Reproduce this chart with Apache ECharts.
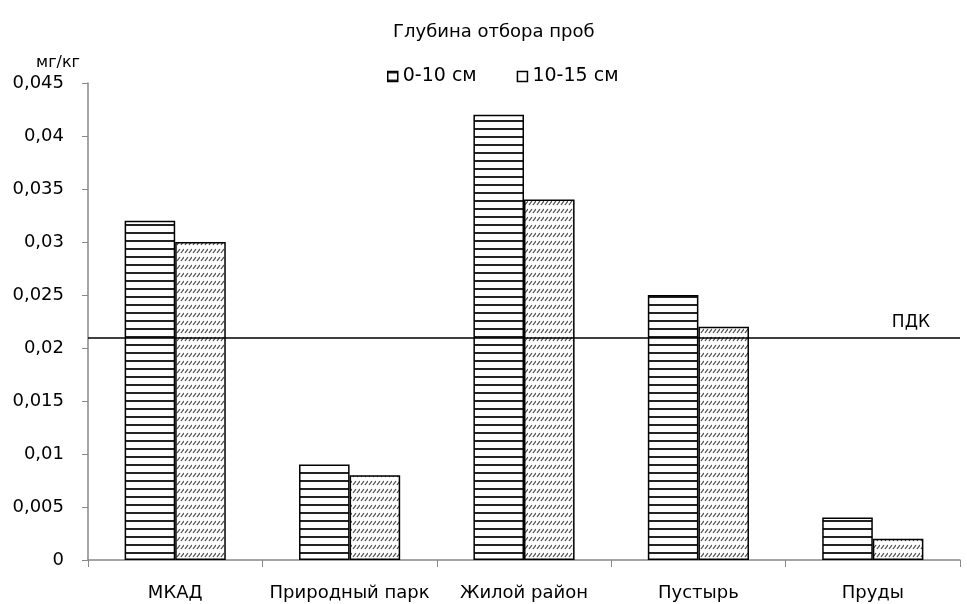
<!DOCTYPE html>
<html><head><meta charset="utf-8">
<script src="https://cdn.jsdelivr.net/npm/echarts@6/dist/echarts.min.js"></script>
<style>html,body{margin:0;padding:0;background:#fff}#c{width:967px;height:604px}</style>
</head><body><div id="c"></div>
<script>
const categories = ['МКАД', 'Природный парк', 'Жилой район', 'Пустырь', 'Пруды'];
const depth0to10 = [0.032, 0.009, 0.042, 0.025, 0.004];
const depth10to15 = [0.030, 0.008, 0.034, 0.022, 0.002];
const limitValue = 0.021;
const seriesNames = ['0-10 см', '10-15 см'];

function hPattern() {
  const c = document.createElement('canvas');
  c.width = 8; c.height = 8;
  const g = c.getContext('2d');
  g.fillStyle = '#fff'; g.fillRect(0, 0, 8, 8);
  g.fillStyle = '#222'; g.fillRect(0, 0, 8, 2);
  return c;
}
function dPattern() {
  const c = document.createElement('canvas');
  c.width = 8; c.height = 8;
  const g = c.getContext('2d');
  g.fillStyle = '#fff'; g.fillRect(0, 0, 8, 8);
  g.strokeStyle = '#444'; g.lineWidth = 1.2;
  g.beginPath(); g.moveTo(1, 5); g.lineTo(4, 1); g.stroke();
  g.beginPath(); g.moveTo(5, 5); g.lineTo(8, 1); g.stroke();
  return c;
}
const hp = hPattern(), dp = dPattern();
const chart = echarts.init(document.getElementById('c'), null, {renderer: 'canvas'});
const fmt = v => v === 0 ? '0' : String(v).replace('.', ',');
const FF = 'DejaVu Sans, Liberation Sans, Arial, sans-serif';
chart.setOption({
  animation: false,
  textStyle: {fontFamily: FF, color: '#000'},
  title: {text: 'Глубина отбора проб', left: 388, top: 18,
    textStyle: {fontSize: 18, fontWeight: 'normal', color: '#000', fontFamily: FF}},
  legend: {top: 62, left: 382, itemWidth: 10, itemHeight: 10, itemGap: 40,
    textStyle: {fontSize: 19, color: '#000', fontFamily: FF},
    data: [
      {name: seriesNames[0], icon: 'rect', itemStyle: {color: {image: hp, repeat: 'repeat'}, borderColor: '#000', borderWidth: 1.5}},
      {name: seriesNames[1], icon: 'rect', itemStyle: {color: '#fff', borderColor: '#000', borderWidth: 1.5}}
    ]},
  grid: {left: 88, right: 7, top: 83, bottom: 44},
  xAxis: {type: 'category', data: categories,
    axisLine: {lineStyle: {color: '#888', width: 1.5}},
    axisTick: {show: true, length: 7, interval: 0, lineStyle: {color: '#888'}},
    axisLabel: {fontSize: 18, color: '#000', margin: 24, interval: 0, fontFamily: FF}},
  yAxis: {type: 'value', min: 0, max: 0.045, interval: 0.005,
    name: 'мг/кг', nameLocation: 'end', nameGap: 12,
    nameTextStyle: {fontSize: 16, color: '#000', align: 'right', padding: [0, 8, 0, 0], fontFamily: FF},
    axisLine: {show: true, lineStyle: {color: '#888', width: 1.5}},
    axisTick: {show: true, length: 6, lineStyle: {color: '#888'}},
    splitLine: {show: false},
    axisLabel: {fontSize: 18, color: '#000', margin: 24, formatter: fmt, fontFamily: FF}},
  series: [
    {name: seriesNames[0], type: 'bar', data: depth0to10, barGap: '0%', barCategoryGap: '42%',
      itemStyle: {color: {image: hp, repeat: 'repeat'}, borderColor: '#000', borderWidth: 1.5},
      markLine: {symbol: 'none', silent: true, precision: 4,
        lineStyle: {color: '#000', width: 1.5, type: 'solid'},
        label: {show: true, position: 'insideEndTop', formatter: 'ПДК', fontSize: 17, color: '#000', distance: [30, 6], fontFamily: FF},
        data: [{yAxis: limitValue}]}},
    {name: seriesNames[1], type: 'bar', data: depth10to15,
      itemStyle: {color: {image: dp, repeat: 'repeat'}, borderColor: '#000', borderWidth: 1.5}}
  ]
});
</script></body></html>
